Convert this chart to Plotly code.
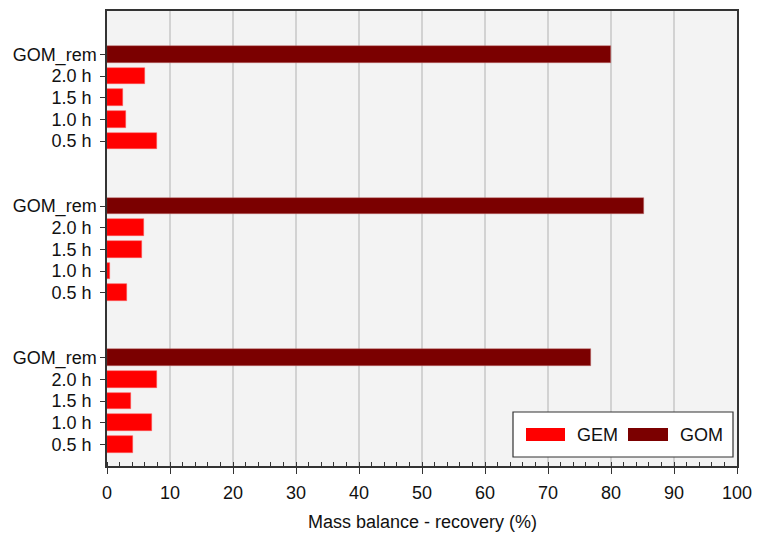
import plotly.graph_objects as go

# Time labels within each experiment block (bottom to top)
row_labels = ["0.5 h", "1.0 h", "1.5 h", "2.0 h", "GOM_rem"]

# GEM recovery (%) per block, ordered 0.5 h, 1.0 h, 1.5 h, 2.0 h
gem_bottom = [4.2, 7.1, 3.8, 8.0]
gem_middle = [3.2, 0.5, 5.6, 5.9]
gem_top = [7.9, 3.0, 2.6, 6.0]

# Remaining GOM recovery (%) per block
gom_bottom = 76.8
gom_middle = 85.3
gom_top = 80.0

x_ticks = [0, 10, 20, 30, 40, 50, 60, 70, 80, 90, 100]

GEM_COLOR = "#ff0000"
GOM_COLOR = "#7b0000"
FONT = "Liberation Sans, Arial, sans-serif"

# Each block occupies five slots with a two-slot gap between blocks
block_starts = [1, 8, 15]
gem_blocks = [gem_bottom, gem_middle, gem_top]
gom_blocks = [gom_bottom, gom_middle, gom_top]

gem_y, gem_x, gom_y, gom_x = [], [], [], []
tick_pos, tick_txt = [], []
for start, gems, gom in zip(block_starts, gem_blocks, gom_blocks):
    for i, v in enumerate(gems):
        gem_y.append(start + i)
        gem_x.append(v)
    gom_y.append(start + 4)
    gom_x.append(gom)
    for i, lab in enumerate(row_labels):
        tick_pos.append(start + i)
        tick_txt.append(lab + ("" if lab == "GOM_rem" else " "))

fig = go.Figure()
fig.add_trace(go.Bar(
    name="GEM", x=gem_x, y=gem_y, orientation="h", width=0.78,
    marker=dict(color=GEM_COLOR, line=dict(color="rgba(255,90,90,0.8)", width=0.6)),
    showlegend=False,
))
fig.add_trace(go.Bar(
    name="GOM", x=gom_x, y=gom_y, orientation="h", width=0.78,
    marker=dict(color=GOM_COLOR, line=dict(color="rgba(190,110,110,0.8)", width=0.6)),
    showlegend=False,
))

fig.update_layout(
    width=757, height=537,
    margin=dict(l=107, r=20, t=11, b=71),
    paper_bgcolor="white",
    plot_bgcolor="#f3f3f3",
    font=dict(family=FONT, size=18, color="#111111"),
    barmode="overlay",
    bargap=0,
)

fig.update_xaxes(
    range=[0, 100],
    tickvals=x_ticks,
    ticks="outside", ticklen=6, tickwidth=1, tickcolor="#333333",
    ticklabelstandoff=4,
    minor=dict(dtick=2, ticks="inside", ticklen=4, tickwidth=1,
               tickcolor="#333333", showgrid=False),
    showgrid=True, gridcolor="#d2d2d2", gridwidth=1.5,
    showline=True, linecolor="#333333", linewidth=1.5, mirror=True,
    zeroline=False,
    automargin=False,
    tickfont=dict(size=18),
    title=dict(text="", font=dict(size=18)),
)

fig.update_yaxes(
    range=[0, 21],
    tickvals=tick_pos, ticktext=tick_txt,
    ticks="outside", ticklen=5, tickwidth=1, tickcolor="#333333",
    showgrid=False, zeroline=False,
    showline=True, linecolor="#333333", linewidth=1.5, mirror=True,
    automargin=False,
    tickfont=dict(size=18),
)

# Legend drawn as a framed box with wide swatches
def px_x(p):
    return (p - 107) / 630

def px_y(p):
    return (466 - p) / 455

shapes = [
    dict(type="rect", xref="paper", yref="paper",
         x0=px_x(513), x1=px_x(733), y0=px_y(457), y1=px_y(412),
         fillcolor="white", line=dict(color="#333333", width=1.2)),
    dict(type="rect", xref="paper", yref="paper",
         x0=px_x(526), x1=px_x(565), y0=px_y(441), y1=px_y(428),
         fillcolor=GEM_COLOR, line=dict(width=0)),
    dict(type="rect", xref="paper", yref="paper",
         x0=px_x(628), x1=px_x(668), y0=px_y(441), y1=px_y(428),
         fillcolor=GOM_COLOR, line=dict(width=0)),
]
annotations = [
    dict(text="GEM", xref="paper", yref="paper", x=px_x(575), y=px_y(434.5),
         xanchor="left", yanchor="middle", showarrow=False, font=dict(size=18)),
    dict(text="GOM", xref="paper", yref="paper", x=px_x(678), y=px_y(434.5),
         xanchor="left", yanchor="middle", showarrow=False, font=dict(size=18)),
    # x-axis title
    dict(text="Mass balance - recovery (%)", xref="paper", yref="paper",
         x=0.5, y=px_y(522), xanchor="center", yanchor="middle",
         showarrow=False, font=dict(size=18)),
]
fig.update_layout(shapes=shapes, annotations=annotations)

fig.write_html("out.html")
